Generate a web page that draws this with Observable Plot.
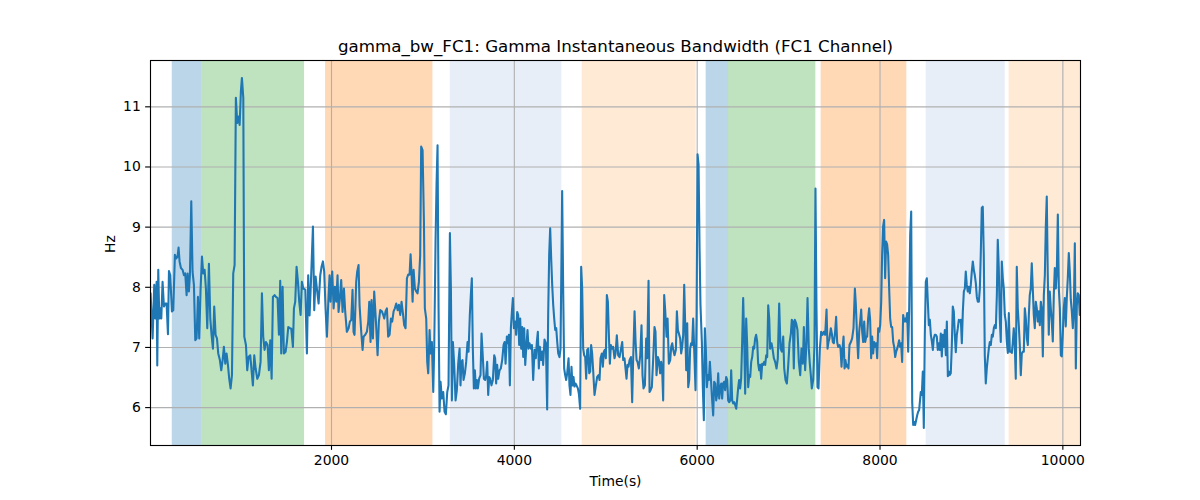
<!DOCTYPE html>
<html>
<head>
<meta charset="utf-8">
<script src="https://cdn.jsdelivr.net/npm/d3@7"></script>
<script src="https://cdn.jsdelivr.net/npm/@observablehq/plot@0.6"></script>
<style>
  html, body { margin: 0; padding: 0; background: #fff; }
  #chart { width: 1200px; height: 500px; }
</style>
</head>
<body>
<div id="chart"></div>
<script>
const titleText = "gamma_bw_FC1: Gamma Instantaneous Bandwidth (FC1 Channel)";
const xLabel = "Time(s)";
const yLabel = "Hz";
const xTicks = [2000, 4000, 6000, 8000, 10000];
const yTicks = [6, 7, 8, 9, 10, 11];
const xDomain = [20, 10193];
const yDomain = [5.37, 11.77];

// Shaded epochs
const bandStart = [258, 583, 1935, 3299, 4742, 6098, 6343, 7356, 8505, 9412];
const bandEnd   = [583, 1705, 3109, 4520, 5989, 6343, 7298, 8293, 9369, 10193];
const bandColor = ["#1f77b4", "#2ca02c", "#ff7f0e", "#aec7e8", "#ffbb78",
                   "#1f77b4", "#2ca02c", "#ff7f0e", "#aec7e8", "#ffbb78"];

// Time series (seconds)
const time = [
21,43,61,72,87,94,105,116,127,138,152,167,182,196,211,222,236,254,269,287,302,316,327,338,353,371,386,400,415,426,440,451,466,480,495,510,524,539,553,568,583,597,612,626,641,659,674,688,703,717,732,747,761,779,794,809,823,838,852,867,881,896,911,925,940,954,969,984,995,1009,1020,1035,1046,1064,1078,1093,1111,1122,1140,1155,1170,1188,1206,1224,1239,1253,1268,1283,1301,1315,1330,1345,1359,1377,1392,1410,1425,1439,1450,1465,1479,1498,1512,1527,1545,1560,1578,1589,1603,1618,1633,1647,1662,1676,1691,1713,
1731,1745,1760,1775,1797,1811,1826,1840,1859,1877,1891,1906,1920,1935,1950,1968,1979,1990,2001,2008,2023,2037,2052,2066,2077,2092,2106,2121,2136,2150,2168,2187,2201,2216,2230,2241,2252,2270,2281,2296,2307,2325,2340,2351,2369,2387,2402,2413,2427,2438,2453,2467,2486,2504,2518,2533,2551,2566,2577,2591,2606,2620,2635,2650,2664,2679,2693,2708,2723,2737,2752,2766,2781,2795,2810,2825,2839,2854,2865,2876,2887,2898,2912,2927,2941,2956,2970,2981,2996,3011,3021,3036,3047,3058,3073,3083,3098,3113,3124,3138,3149,3160,3171,3182,3193,3207,3222,3237,3251,3266,3280,3295,3306,3317,3328,3342,3357,3371,3386,3401,
3411,3422,3433,3444,3459,3473,3488,3499,3513,3524,3535,3546,3557,3568,3579,3590,3601,3615,3630,3641,3652,3667,3681,3692,3703,3714,3725,3736,3750,3765,3780,3790,3801,3812,3823,3838,3852,3867,3882,3893,3904,3918,3929,3940,3951,3962,3973,3984,3995,4009,4020,4031,4042,4053,4064,4075,4086,4097,4108,4119,4130,4144,4155,4166,4181,4192,4206,4221,4235,4246,4257,4268,4279,4294,4305,4315,4330,4345,4359,4370,4381,4392,4403,4414,4425,4436,4447,4458,4469,4480,4494,4505,4516,4523,4534,4545,4556,4567,4578,4593,4603,4614,4625,4636,4647,4658,4669,4680,4695,4706,4720,4731,4742,4753,4764,4775,4786,4797,4808,4819,4830,4840,4851,4862,4877,4892,4906,4921,4932,4943,4957,4968,4979,4990,5001,5012,5023,5034,5045,5056,5067,5081,5096,
5107,5121,5136,5151,5165,5180,5191,5205,5216,5227,5238,5249,5260,5275,5289,5300,5315,5326,5337,5347,5362,5377,5391,5402,5413,5428,5442,5453,5468,5479,5490,5504,5519,5533,5544,5555,5570,5581,5595,5606,5617,5628,5639,5650,5665,5676,5690,5705,5716,5727,5738,5752,5767,5778,5789,5800,5814,5825,5836,5847,5858,5869,5880,5891,5902,5913,5923,5934,5945,5956,5967,5982,5993,6004,6015,6026,6036,6051,6062,6073,6084,6095,6106,6117,6128,6139,6153,6164,6175,6186,6197,6208,6219,6230,6241,6252,6263,6273,6284,6295,6306,6317,6328,6339,6350,6361,6372,6383,6394,6405,6416,6427,6438,6448,6459,6470,6481,6492,6503,6514,6525,6536,6547,6558,6569,6580,6591,6602,6613,6623,6634,6645,6656,6667,6678,6689,6700,6711,6722,6733,6744,6755,6766,6777,6788,6798,
6813,6824,6839,6853,6868,6882,6897,6912,6926,6941,6952,6966,6981,6995,7010,7025,7035,7046,7057,7068,7083,7097,7112,7127,7141,7156,7167,7181,7196,7207,7221,7232,7243,7254,7269,7283,7294,7305,7316,7327,7342,7356,7371,7385,7400,7415,7426,7436,7447,7462,7473,7484,7495,7509,7520,7531,7542,7557,7568,7579,7590,7601,7612,7622,7633,7644,7655,7666,7681,7695,7710,7725,7735,7750,7761,7772,7783,7794,7805,7816,7827,7838,7849,7859,7870,7881,7892,7903,7914,7925,7936,7947,7958,7969,7980,7991,8002,8013,8023,8034,8045,8056,8067,8078,8089,8100,8111,8122,8133,8144,8155,8166,8177,8188,8198,8209,8220,8231,8242,8253,8264,8275,8286,8297,8308,8319,8330,8341,8352,8363,8373,8384,8395,8406,8417,8428,
8446,8457,8468,8479,8490,8501,8512,8523,8534,8545,8556,8567,8578,8588,8599,8610,8621,8632,8643,8654,8665,8676,8687,8698,8709,8720,8731,8742,8753,8763,8774,8785,8796,8807,8818,8829,8840,8851,8862,8873,8884,8895,8906,8917,8928,8938,8949,8960,8971,8982,8993,9004,9015,9026,9037,9048,9059,9070,9081,9092,9102,9113,9124,9135,9146,9157,9168,9179,9190,9201,9212,9223,9234,9245,9256,9267,9278,9288,9299,9310,9321,9332,9343,9354,9365,9376,9387,9398,9409,9420,9431,9442,9452,9463,9474,9485,9496,9507,9518,9529,9540,9551,9562,9573,9584,9595,9606,9617,9628,9638,9649,9660,9671,9682,9693,9704,9715,9726,9737,9748,9759,9770,9781,9792,9803,9813,9824,9835,9846,9857,9868,9879,9890,9901,9912,9923,9934,9945,9956,9967,9978,9988,9999,10010,10021,10032,10043,10054,10065,10076,10087,10098,10109,10120,10131,10142,10153,10163,10174,10185
];

// Instantaneous bandwidth (Hz)
const hz = [
7.9,7.15,8.04,7.48,8.09,6.7,8.29,7.48,7.65,7.48,8.09,7.68,7.73,7.73,7.22,8.27,8.2,7.6,7.62,8.54,8.48,8.51,8.66,8.43,8.32,8.29,8.2,8.23,7.87,8.23,7.93,8.2,9.43,8.26,8.04,7.12,7.15,7.84,7.15,7.98,8.51,8.23,8.29,7.98,7.32,8.39,7.48,7.21,6.98,7.68,7.21,7.15,6.9,6.79,6.62,6.79,7.01,6.73,6.9,6.71,6.48,6.32,6.54,8.23,8.37,11.15,10.73,10.84,10.7,11.26,11.48,11.15,7.18,7.04,6.62,6.84,6.87,6.68,6.37,6.87,6.65,6.48,6.54,6.76,7.9,7.18,6.96,7.09,7.04,6.62,7.12,6.48,7.84,7.87,7.84,7.82,7.21,8.11,6.9,8.01,6.9,6.93,7.09,7.34,7.32,7.31,7.01,7.65,7.76,8.34,8.09,7.76,7.54,8.09,7.98,7.96,
6.9,8.2,7.53,8.09,9.01,7.62,8.18,7.98,7.73,8.2,8.34,8.43,8.26,7.65,7.18,7.87,8.2,7.76,8.09,8.26,7.65,8.01,7.76,8.2,7.59,7.82,8.12,7.59,7.98,7.59,7.26,7.32,7.43,7.46,7.96,7.26,7.21,8.09,8.26,8.37,7.7,7.26,6.96,7.18,7.21,7.26,7.43,7.76,7.09,7.79,7.15,7.93,7.43,6.87,7.43,7.62,7.6,7.54,7.48,7.6,7.65,7.18,7.21,7.48,7.43,7.6,7.65,7.73,7.62,7.71,7.54,7.76,7.57,7.37,7.32,8.15,8.21,8.21,8.55,8.21,7.76,8.29,7.98,7.93,7.9,8.09,8.53,10.34,10.28,9.09,7.65,7.48,6.76,6.57,7.29,6.9,7.09,6.26,7.04,8.76,9.71,10.36,7.65,5.93,6.43,6.15,6.26,5.93,5.89,6.26,6.37,8.9,7.98,6.12,7.09,6.71,6.12,6.29,6.73,6.98,
6.37,6.76,6.79,6.46,6.57,6.76,7.09,6.93,7.54,7.87,8.15,6.98,6.32,6.62,6.32,6.46,6.32,6.48,6.54,7.23,6.93,6.48,6.46,6.54,6.76,6.21,6.51,6.48,6.37,6.46,6.87,6.82,6.4,6.71,6.48,6.62,6.65,6.79,7.04,7.09,6.73,7.18,7.07,7.21,6.37,7.32,7.59,7.82,7.32,7.43,7.21,7.59,7.54,7.04,7.48,6.98,7.34,6.84,7.32,6.71,6.98,7.29,6.98,7.07,6.98,7.04,6.46,6.96,6.82,7.09,7.26,6.65,7.01,6.79,6.93,6.71,7.13,7.07,5.97,7.54,8.54,8.98,8.48,8.04,7.71,7.48,7.29,7.32,7.09,6.9,6.84,6.98,8.54,9.6,7.98,6.65,6.54,6.46,6.57,6.82,6.37,6.21,6.68,6.37,6.51,6.35,6.4,6.37,6.32,6.23,5.98,8.34,7.98,6.98,6.87,6.84,6.48,6.96,6.98,6.57,6.6,7.04,6.9,6.62,6.21,6.37,6.51,6.54,6.46,6.82,6.9,6.68,6.93,6.96,6.82,7.87,7.76,7.21,6.73,7.04,6.98,7.01,6.82,
6.9,7.2,6.87,6.84,6.96,7.09,6.79,6.82,6.65,6.48,6.71,6.68,6.79,6.84,6.09,6.82,7.6,7.1,6.79,6.76,6.65,6.87,7.37,6.54,6.32,6.37,7.15,6.82,8.11,6.26,6.29,6.34,6.82,7.34,7.26,6.54,6.84,6.79,6.57,6.76,6.62,6.12,7.87,7.62,7.18,7.48,6.73,6.79,7.01,7.07,6.96,6.87,6.96,7.6,7.29,7.23,7.15,6.9,7.01,7.21,8.04,7.37,6.62,7.4,6.34,6.46,6.98,7.07,7.04,7.48,6.98,6.29,7.46,10.21,10.04,8.65,7.71,7.1,6.32,5.79,7.32,6.96,6.34,6.54,6.46,6.76,6.4,6.12,5.87,6.43,6.4,6.12,6.23,6.57,6.15,6.34,6.4,6.15,6.4,6.43,6.29,6.51,6.46,6.12,6.09,6.12,6.62,6.12,6.07,6.09,6.04,5.98,6.15,6.32,6.46,6.32,6.48,7.09,7.82,7.15,6.23,7.48,7.04,6.34,6.54,6.51,6.76,6.84,7.01,6.98,7.15,7.21,7.1,6.73,6.62,6.71,6.48,6.73,6.71,6.76,6.71,6.87,6.84,7.7,7.48,6.98,
7.07,6.98,6.82,6.76,6.65,6.82,7.73,6.98,6.93,7.18,6.65,6.46,6.4,6.68,7.07,7.23,7.46,7.43,6.65,7.46,7.4,7.29,6.76,6.54,6.98,6.73,7.34,6.62,7.1,7.82,6.98,6.73,6.54,6.32,6.46,7.04,9.64,7.65,6.34,6.32,6.98,7.26,7.21,7.26,7.21,7.63,6.98,7.09,7.15,7.32,7.23,7.09,7.07,7.26,7.51,7.09,7.01,7.04,6.98,6.68,6.98,7.18,6.65,6.79,6.68,6.71,6.65,7.04,7.09,7.15,7.32,7.98,7.73,7.15,6.82,7.26,7.43,7.63,7.26,7.09,7.43,7.09,7.18,7.18,7.48,7.65,7.46,6.82,7.18,6.9,7.09,7.01,7.07,6.82,7.32,7.26,7.37,7.76,8.54,9.01,9.12,8.15,8.76,8.71,8.54,7.98,7.48,7.34,7.34,7.09,7.01,6.84,6.93,6.98,7.04,7.12,7.01,7.07,6.76,7.54,7.43,7.48,7.43,7.57,6.93,7.65,8.87,9.26,6.09,5.71,5.76,5.71,5.79,5.87,5.93,5.96,
6.26,6.21,6.6,5.66,7.21,8.09,8.15,7.76,7.37,7.46,7.21,7.1,6.96,7.15,7.21,7.21,7.18,6.96,7.07,6.96,7.23,6.85,7.21,7.01,7.29,6.87,7.43,6.52,6.6,6.54,6.57,7.01,7.68,7.6,7.21,6.92,7.21,7.32,7.46,7.43,7.46,7.07,7.6,7.93,7.98,8.26,8.04,7.93,8.01,7.9,8.04,8.26,8.43,8.29,8.2,8.07,7.84,7.76,7.76,7.98,8.54,9.32,9.34,8.54,6.87,6.4,6.65,6.82,6.98,7.09,7.04,7.21,7.18,7.32,7.37,7.32,7.87,8.79,8.32,7.48,7.09,8.43,8.15,7.98,7.54,7.43,7.1,6.91,7.57,6.93,6.93,6.91,7.07,7.32,7.04,6.48,8.34,7.65,7.37,7.04,6.54,6.9,6.93,6.93,7.65,7.48,7.15,7.04,7.54,7.87,7.98,8.4,7.98,7.54,7.32,7.76,7.65,7.43,7.6,7.37,7.76,7.63,6.85,7.87,8.2,8.98,9.51,8.2,7.21,7.93,7.65,7.43,7.1,7.87,8.32,7.98,8.26,9.21,7.98,7.65,6.87,6.85,7.21,7.65,7.82,7.35,7.82,8.15,8.57,8.26,7.79,7.6,7.32,7.65,8.73,6.65,7.7,7.9,7.87,7.54
];

const series = time.map((t, i) => ({t, v: hz[i]}));
const bands = bandStart.map((s, i) => ({x1: s, x2: bandEnd[i], c: bandColor[i]}));

const font = "DejaVu Sans, Liberation Sans, sans-serif";
const pt = 100 / 72;

const chart = Plot.plot({
  width: 1200,
  height: 500,
  marginLeft: 150,
  marginRight: 120,
  marginTop: 60,
  marginBottom: 55,
  style: {fontFamily: font, fontSize: "13.9px", color: "#000", background: "#fff"},
  x: {domain: xDomain, label: null},
  y: {domain: yDomain, label: null},
  marks: [
    Plot.rect(bands, {x1: "x1", x2: "x2", fill: "c", fillOpacity: 0.3, clip: true}),
    Plot.gridX(xTicks, {stroke: "#b0b0b0", strokeOpacity: 1, strokeWidth: 0.8 * pt}),
    Plot.gridY(yTicks, {stroke: "#b0b0b0", strokeOpacity: 1, strokeWidth: 0.8 * pt}),
    Plot.line(series, {x: "t", y: "v", stroke: "#1f77b4", strokeWidth: 1.5 * pt, strokeLinejoin: "round", clip: true}),
    Plot.frame({stroke: "#000", strokeWidth: 0.8 * pt}),
    Plot.axisX(xTicks, {tickSize: 3.5 * pt, tickPadding: 3.5 * pt, tickFormat: d => String(d), label: null, fontSize: 13.9, strokeWidth: 0.8 * pt}),
    Plot.axisY(yTicks, {tickSize: 3.5 * pt, tickPadding: 3.5 * pt, tickFormat: d => String(d), label: null, fontSize: 13.9, strokeWidth: 0.8 * pt}),
    Plot.text([titleText], {text: d => d, frameAnchor: "top", dy: -14, fontSize: 16.7, lineAnchor: "middle"}),
    Plot.text([xLabel], {text: d => d, frameAnchor: "bottom", dy: 36, fontSize: 13.9, lineAnchor: "middle"}),
    Plot.text([yLabel], {text: d => d, frameAnchor: "left", dx: -40, rotate: -90, fontSize: 13.9, lineAnchor: "middle"})
  ]
});

document.getElementById("chart").appendChild(chart);
</script>
</body>
</html>
